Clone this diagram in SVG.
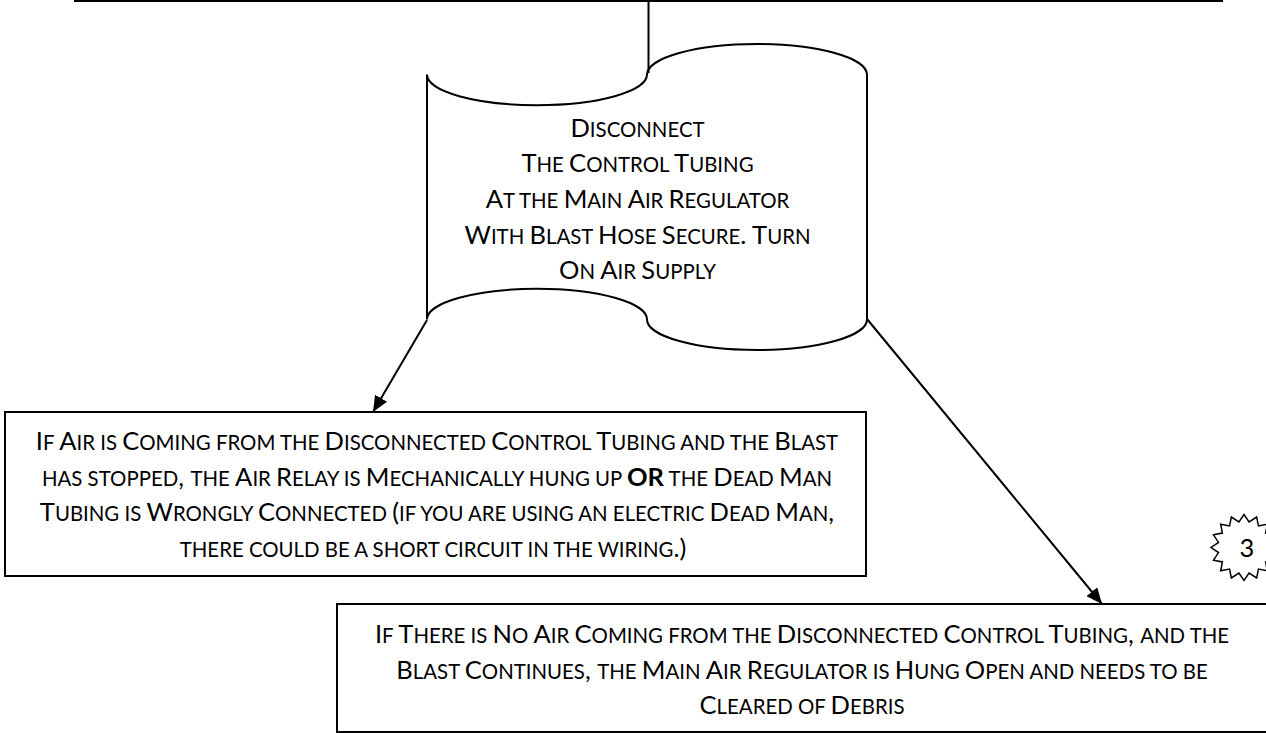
<svg xmlns="http://www.w3.org/2000/svg" width="1266" height="733" viewBox="0 0 1266 733">
<defs>
<style>
text{font-family:Lato,"Open Sans","Liberation Sans",sans-serif;font-size:25.5px;fill:#000;text-anchor:middle}
.s{font-size:80%}
.b{font-weight:bold}
.shape{fill:#fff;stroke:#000;stroke-width:2}
.conn{fill:none;stroke:#000;stroke-width:2}
</style>
<marker id="ah" markerUnits="userSpaceOnUse" markerWidth="16" markerHeight="14" refX="16" refY="7" orient="auto"><path d="M0,0 L16,7 L0,14 z" fill="#000"/></marker>
</defs>
<rect width="1266" height="733" fill="#fff"/>
<g id="scroll">
<path class="shape" d="M427,74.6 A110,30.6 0 0 0 647,74.6 A110,30.6 0 0 1 867,74.6 L867,319.4 A110,30.6 0 0 1 647,319.4 A110,30.6 0 0 0 427,319.4 Z"/>
<text x="637.5" y="137">D<tspan class="s">ISCONNECT</tspan></text>
<text x="637.5" y="172.3">T<tspan class="s">HE </tspan>C<tspan class="s">ONTROL </tspan>T<tspan class="s">UBING</tspan></text>
<text x="637.5" y="208">A<tspan class="s">T THE </tspan>M<tspan class="s">AIN </tspan>A<tspan class="s">IR </tspan>R<tspan class="s">EGULATOR</tspan></text>
<text x="637.5" y="243.5">W<tspan class="s">ITH </tspan>B<tspan class="s">LAST </tspan>H<tspan class="s">OSE </tspan>S<tspan class="s">ECURE</tspan>. T<tspan class="s">URN</tspan></text>
<text x="637.5" y="279">O<tspan class="s">N </tspan>A<tspan class="s">IR </tspan>S<tspan class="s">UPPLY</tspan></text>
</g>
<g id="box-air-coming">
<rect class="shape" x="5" y="412" width="861" height="164"/>
<text x="437" y="450">I<tspan class="s">F </tspan>A<tspan class="s">IR IS </tspan>C<tspan class="s">OMING FROM THE </tspan>D<tspan class="s">ISCONNECTED </tspan>C<tspan class="s">ONTROL </tspan>T<tspan class="s">UBING AND THE </tspan>B<tspan class="s">LAST</tspan></text>
<text x="437" y="485.6"><tspan class="s">HAS STOPPED</tspan>, <tspan class="s">THE </tspan>A<tspan class="s">IR </tspan>R<tspan class="s">ELAY IS </tspan>M<tspan class="s">ECHANICALLY HUNG UP </tspan><tspan class="b">OR</tspan><tspan class="s"> THE </tspan>D<tspan class="s">EAD </tspan>M<tspan class="s">AN</tspan></text>
<text x="437" y="521.2">T<tspan class="s">UBING IS </tspan>W<tspan class="s">RONGLY </tspan>C<tspan class="s">ONNECTED </tspan>(<tspan class="s">IF YOU ARE USING AN ELECTRIC </tspan>D<tspan class="s">EAD </tspan>M<tspan class="s">AN</tspan>,</text>
<text x="433" y="556.8"><tspan class="s">THERE COULD BE A SHORT CIRCUIT IN THE WIRING</tspan>.)</text>
</g>
<g id="box-no-air">
<rect class="shape" x="337" y="604" width="935" height="128"/>
<text x="802" y="643">I<tspan class="s">F </tspan>T<tspan class="s">HERE IS </tspan>N<tspan class="s">O </tspan>A<tspan class="s">IR </tspan>C<tspan class="s">OMING FROM THE </tspan>D<tspan class="s">ISCONNECTED </tspan>C<tspan class="s">ONTROL </tspan>T<tspan class="s">UBING</tspan>, <tspan class="s">AND THE</tspan></text>
<text x="802" y="678.6">B<tspan class="s">LAST </tspan>C<tspan class="s">ONTINUES</tspan>, <tspan class="s">THE </tspan>M<tspan class="s">AIN </tspan>A<tspan class="s">IR </tspan>R<tspan class="s">EGULATOR IS </tspan>H<tspan class="s">UNG </tspan>O<tspan class="s">PEN AND NEEDS TO BE</tspan></text>
<text x="802" y="714">C<tspan class="s">LEARED OF </tspan>D<tspan class="s">EBRIS</tspan></text>
</g>
<g id="badge-3">
<polygon transform="translate(1244,547.5)" fill="#fff" stroke="#000" stroke-width="1.5" points="0,-33 5.07,-25.5 12.63,-30.49 14.45,-21.62 23.33,-23.33 21.62,-14.45 30.49,-12.63 25.5,-5.07 33,0 25.5,5.07 30.49,12.63 21.62,14.45 23.33,23.33 14.45,21.62 12.63,30.49 5.07,25.5 0,33 -5.07,25.5 -12.63,30.49 -14.45,21.62 -23.33,23.33 -21.62,14.45 -30.49,12.63 -25.5,5.07 -33,0 -25.5,-5.07 -30.49,-12.63 -21.62,-14.45 -23.33,-23.33 -14.45,-21.62 -12.63,-30.49 -5.07,-25.5"/>
<text x="1247" y="557">3</text>
</g>
<g id="connectors">
<line class="conn" x1="74" y1="1" x2="1223" y2="1"/>
<line class="conn" x1="648.5" y1="0" x2="648.5" y2="73"/>
<line class="conn" x1="427" y1="320" x2="373" y2="412" marker-end="url(#ah)"/>
<line class="conn" x1="867" y1="319" x2="1102" y2="604" marker-end="url(#ah)"/>
</g>
</svg>
